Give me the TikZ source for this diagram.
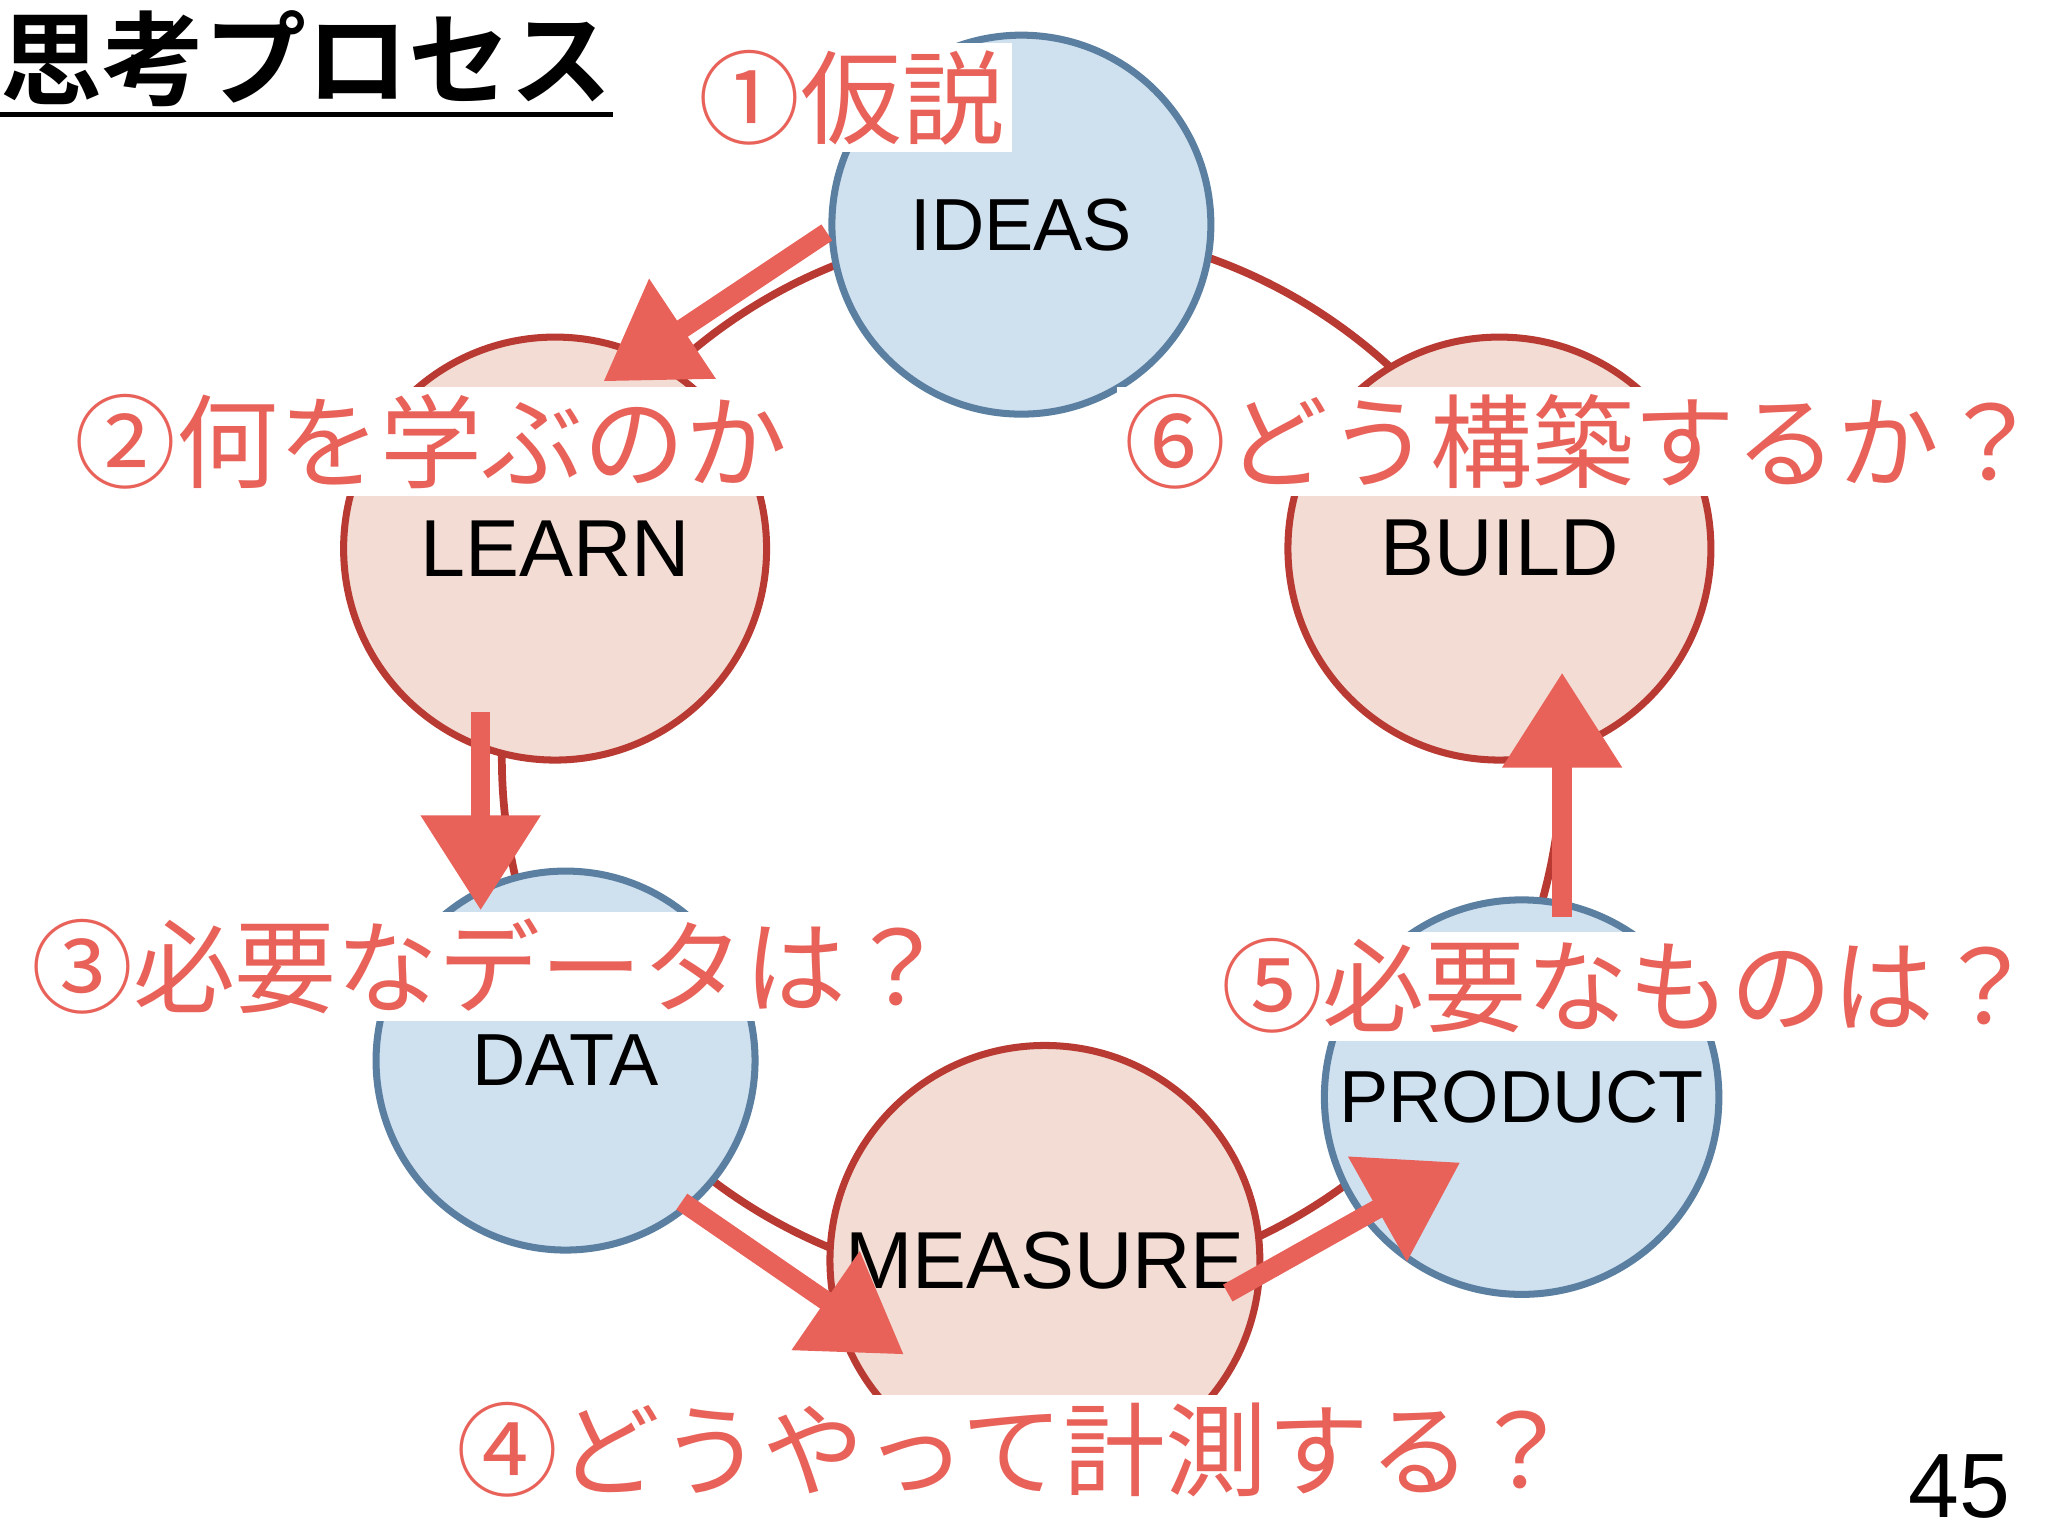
\documentclass[tikz,border=0pt]{standalone}
\usepackage{fontspec}
\setmainfont{Liberation Sans}
\newfontfamily\jp{Noto Sans CJK JP}
\newfontfamily\jpb{Noto Sans CJK JP Bold}
\usetikzlibrary{arrows.meta}
\definecolor{sal}{HTML}{E8625A}
\definecolor{dred}{HTML}{B83A32}
\definecolor{bfill}{HTML}{CFE0EF}
\definecolor{bline}{HTML}{5B7FA0}
\definecolor{pfill}{HTML}{F2DCD3}
\tikzset{
 blue circ/.style={circle,draw=bline,fill=bfill,line width=2pt,minimum size=3.79cm,font=\fontsize{21}{24}\selectfont},
 pink circ/.style={circle,draw=dred,fill=pfill,line width=2pt,minimum size=4.23cm,font=\fontsize{23}{26}\selectfont},
 jlabel/.style={fill=white,text=sal,inner sep=2pt,font=\jp\fontsize{29}{32}\selectfont},
 bigarrow/.style={draw=sal,line width=5.5pt,-{Triangle[length=0.95cm,width=1.15cm]}}
}
\begin{document}
\begin{tikzpicture}[x=0.01306cm,y=-0.01306cm]
\useasboundingbox (0,0) rectangle (1568,1176);
\draw[dred,line width=2.2pt] (790,580) circle[radius=5.3cm];
\node[blue circ] (ideas) at (782,172) {IDEAS};
\node[pink circ] (learn) at (425,420) {LEARN};
\node[pink circ] (build) at (1148,420) {BUILD};
\node[blue circ] (data) at (433,812) {DATA};
\node[blue circ] (product) at (1165,840) {PRODUCT};
\node[pink circ] (measure) at (800,965) {MEASURE};
\node[anchor=west,font=\jpb\fontsize{29}{32}\selectfont,inner sep=0pt] (title) at (0,45) {思考プロセス};
\draw[line width=1.5pt] (title.south west) ++(0,-2pt) -- ([yshift=-2pt]title.south east);
\node[jlabel] (l1) at (652,75) {①仮説};
\node[jlabel] (l2) at (330,338) {②何を学ぶのか};
\node[jlabel] (l6) at (1212,338) {⑥どう構築するか？};
\node[jlabel] (l3) at (375,740) {③必要なデータは？};
\node[jlabel] (l5) at (1247,755) {⑤必要なものは？};
\node[jlabel] (l4) at (777,1110) {④どうやって計測する？};
\node[font=\fontsize{26}{28}\selectfont] (pg) at (1500,1138) {45};
\coordinate (a1s) at (633,178); \coordinate (a1e) at (462,292);
\coordinate (a2s) at (368,545); \coordinate (a2e) at (368,697);
\coordinate (a3s) at (522,920); \coordinate (a3e) at (692,1037);
\coordinate (a4s) at (940,990); \coordinate (a4e) at (1118,890);
\coordinate (a5s) at (1196,702); \coordinate (a5e) at (1196,515);
\draw[bigarrow] (a1s) -- (a1e);
\draw[bigarrow] (a2s) -- (a2e);
\draw[bigarrow] (a3s) -- (a3e);
\draw[bigarrow] (a4s) -- (a4e);
\draw[bigarrow] (a5s) -- (a5e);
\end{tikzpicture}
\end{document}
